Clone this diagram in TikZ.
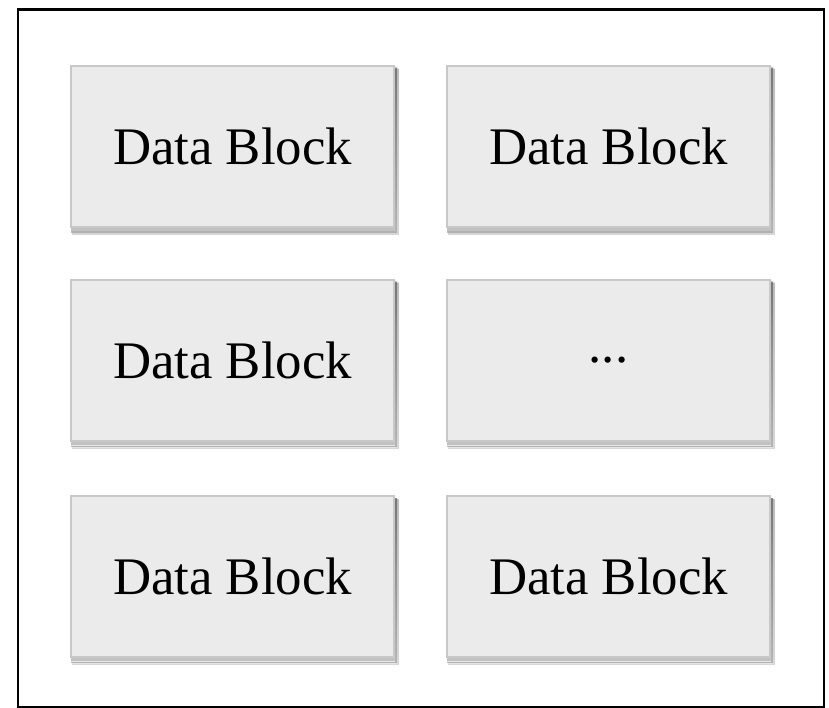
\documentclass[tikz,border=0pt]{standalone}
\usepackage{fontspec}
\setmainfont{Liberation Serif}
\definecolor{blockfill}{HTML}{EBEBEB}
\definecolor{blockline}{HTML}{C8C8C8}
\definecolor{shade}{HTML}{D6D6D6}
\begin{document}
\begin{tikzpicture}[x=1pt,y=-1pt,
  blk/.style={draw=blockline,line width=2pt,fill=blockfill,minimum width=323pt,minimum height=161pt,
    inner sep=0pt,font=\fontsize{52.8}{60}\selectfont,anchor=north west}]
\useasboundingbox (0,0) rectangle (829,708);
\fill[white] (0,0) rectangle (829,708);
% shadows
\foreach \x/\y in {70/65,446/65,70/279,446/279,70/495,446/495}{
  \fill[shade,opacity=0.2] (\x+2,\y+4) rectangle (\x+329,\y+170);
  \fill[shade,opacity=0.4] (\x+1,\y+3) rectangle (\x+327,\y+168);
  \fill[shade,opacity=0.7] (\x+1,\y+2) rectangle (\x+325,\y+166);
}
\node[blk] (b1) at (70,65) {Data Block};
\node[blk] (b2) at (446,65) {Data Block};
\node[blk] (b3) at (70,279) {Data Block};
\node[blk] (b4) at (446,279) {...};
\node[blk] (b5) at (70,495) {Data Block};
\node[blk] (b6) at (446,495) {Data Block};
\node[draw=black,line width=2.5pt,fill=none,minimum width=806pt,minimum height=697pt,anchor=north west,inner sep=0pt] (outer) at (16.5,8.5) {};
\end{tikzpicture}
\end{document}
